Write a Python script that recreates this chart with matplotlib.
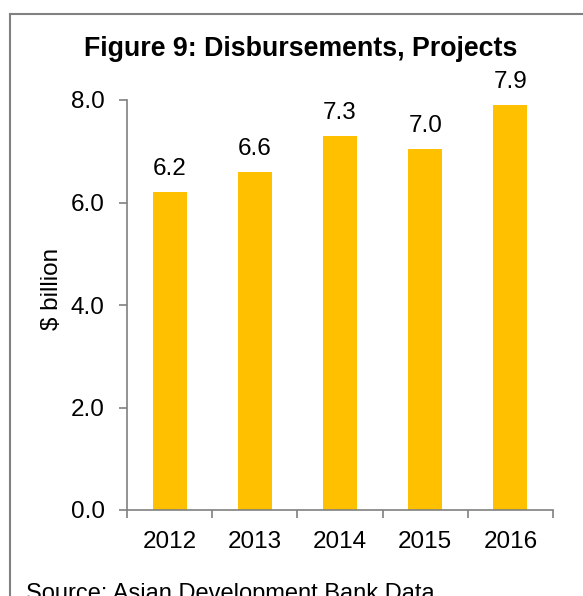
import matplotlib.pyplot as plt
from matplotlib.lines import Line2D

plt.rcParams['font.family'] = ['Liberation Sans', 'DejaVu Sans']

# datos del grafico
anios = ['2012', '2013', '2014', '2015', '2016']
desembolsos = [6.2, 6.6, 7.3, 7.04, 7.9]
etiquetas_y = ['0.0', '2.0', '4.0', '6.0', '8.0']

fig = plt.figure(figsize=(5.83, 5.96), dpi=100)
ax = fig.add_axes([127 / 583, 1 - 510 / 596, (553 - 127) / 583, 410 / 596])

x = range(len(anios))
ax.bar(x, desembolsos, width=0.4, color='#FFC000')
for xi, v in zip(x, desembolsos):
    ax.annotate(f'{v:.1f}', (xi, v), xytext=(0, 8.5), textcoords='offset points',
                ha='center', va='bottom', fontsize=17.5)

ax.set_xlim(-0.5, len(anios) - 0.5)
ax.set_ylim(0, 8)
ax.set_yticks([0, 2, 4, 6, 8])
ax.set_yticklabels(etiquetas_y)
ax.set_xticks([i - 0.5 for i in range(len(anios) + 1)], minor=False)
ax.set_xticklabels([])
ax.set_xticks(list(x), minor=True)
ax.set_xticklabels(anios, minor=True)
ax.tick_params(axis='x', which='minor', length=0, pad=15, labelsize=17.5)
ax.tick_params(axis='x', which='major', length=6, color='#808080', width=1.2)
ax.tick_params(axis='y', length=6, color='#808080', width=1.2, pad=10, labelsize=17.5)

for lado in ['top', 'right']:
    ax.spines[lado].set_visible(False)
for lado in ['left', 'bottom']:
    ax.spines[lado].set_color('#808080')
    ax.spines[lado].set_linewidth(1.2)

ax.set_ylabel('$ billion', fontsize=17.5)
ax.yaxis.set_label_coords((52 - 127) / 426, (510 - 289) / 410)
ax.yaxis.label.set_va('center')

fig.text(301 / 583, 1 - 49 / 596, 'Figure 9: Disbursements, Projects', ha='center', va='center',
         fontsize=19.3, fontweight='bold')
fig.text(26 / 583, 1 - 600 / 596, 'Source: Asian Development Bank Data.', ha='left', va='baseline',
         fontsize=17)

# marco gris (solo se ven el borde izquierdo y superior)
fig.add_artist(Line2D([9.5 / 583, 9.5 / 583], [0, 1 - 14 / 596], transform=fig.transFigure,
                      color='#808080', linewidth=1.5))
fig.add_artist(Line2D([9.5 / 583, 1], [1 - 14 / 596, 1 - 14 / 596], transform=fig.transFigure,
                      color='#808080', linewidth=1.5))

fig.savefig('out.png', dpi=100)
